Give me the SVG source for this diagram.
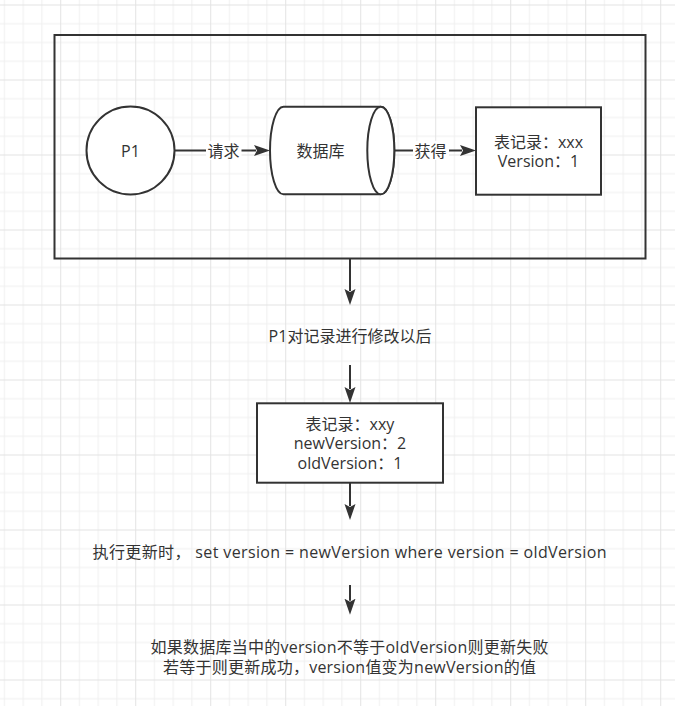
<svg xmlns="http://www.w3.org/2000/svg" width="675" height="706" viewBox="0 0 675 706">
  <defs>
    <pattern id="grid" x="-14.8" y="4.5" width="75" height="75" patternUnits="userSpaceOnUse">
      <g stroke="#efefef" stroke-width="1" fill="none">
        <line x1="19.25" y1="0" x2="19.25" y2="75"/>
        <line x1="38" y1="0" x2="38" y2="75"/>
        <line x1="56.75" y1="0" x2="56.75" y2="75"/>
        <line x1="0" y1="19.25" x2="75" y2="19.25"/>
        <line x1="0" y1="38" x2="75" y2="38"/>
        <line x1="0" y1="56.75" x2="75" y2="56.75"/>
      </g>
      <g stroke="#e3e3e3" stroke-width="1" fill="none">
        <line x1="0.5" y1="0" x2="0.5" y2="75"/>
        <line x1="0" y1="0.5" x2="75" y2="0.5"/>
      </g>
    </pattern>
    <marker id="arrow" viewBox="0 -6 17 12" refX="2" refY="0" markerWidth="17" markerHeight="12" markerUnits="userSpaceOnUse" orient="auto">
      <path d="M16,0 L0,-5.5 L3,0 L0,5.5 Z" fill="#333333"/>
    </marker>
  </defs>
  <style>
    .shape { fill: #ffffff; stroke: #333333; stroke-width: 2; }
    .frame { fill: none; stroke: #333333; stroke-width: 2; }
    .edge { fill: none; stroke: #333333; stroke-width: 2; marker-end: url(#arrow); }
    .t { font-family: "Open Sans", "Noto Sans CJK SC", sans-serif; font-size: 16px; fill: #333333; text-anchor: middle; }
    .lblbg { fill: #ffffff; }
  </style>

  <rect x="0" y="0" width="675" height="706" fill="#ffffff"/>
  <rect x="0" y="0" width="675" height="706" fill="url(#grid)"/>

  <g id="container">
    <rect class="frame" x="54.5" y="35" width="591" height="223.5"/>
  </g>

  <g id="p1">
    <circle class="shape" cx="130.5" cy="150.5" r="44"/>
    <text class="t" x="130.5" y="156.5">P1</text>
  </g>

  <g id="database">
    <path class="shape" d="M283.5,106.7 L380.8,106.7 A13.5,43.8 0 0 1 380.8,194.3 L283.5,194.3 A13.5,43.8 0 0 1 283.5,106.7 Z"/>
    <ellipse class="shape" cx="380.8" cy="150.5" rx="13.5" ry="43.8"/>
    <text class="t" x="320.5" y="156.5">数据库</text>
  </g>

  <g id="record1">
    <rect class="shape" x="476" y="107.3" width="125" height="87.4"/>
    <text class="t" x="538.5" y="147.5">表记录：xxx</text>
    <text class="t" x="538.5" y="167">Version：1</text>
  </g>

  <g id="modify-label">
    <text class="t" x="350" y="342">P1对记录进行修改以后</text>
  </g>

  <g id="record2">
    <rect class="shape" x="257" y="403.3" width="186" height="79.4"/>
    <text class="t" x="350" y="429.5">表记录：xxy</text>
    <text class="t" x="350" y="449">newVersion：2</text>
    <text class="t" x="350" y="468.5">oldVersion：1</text>
  </g>

  <g id="update-label">
    <text class="t" x="349.5" y="558" textLength="514" lengthAdjust="spacing">执行更新时， set version = newVersion where version = oldVersion</text>
  </g>

  <g id="result-label">
    <text class="t" x="349.5" y="652.5" textLength="398" lengthAdjust="spacing">如果数据库当中的version不等于oldVersion则更新失败</text>
    <text class="t" x="349.5" y="672.5" textLength="373" lengthAdjust="spacing">若等于则更新成功，version值变为newVersion的值</text>
  </g>

  <g id="connectors">
    <line class="edge" x1="175" y1="150.5" x2="256" y2="150.5"/>
    <rect class="lblbg" x="206" y="141" width="35.5" height="19"/>
    <text class="t" x="223.5" y="156.5">请求</text>

    <line class="edge" x1="394.3" y1="150.5" x2="462" y2="150.5"/>
    <rect class="lblbg" x="413" y="141" width="36" height="19"/>
    <text class="t" x="430.5" y="156.5">获得</text>

    <line class="edge" x1="350" y1="259" x2="350" y2="291"/>
    <line class="edge" x1="350" y1="365" x2="350" y2="389"/>
    <line class="edge" x1="350" y1="483" x2="350" y2="506"/>
    <line class="edge" x1="350" y1="585" x2="350" y2="600.7"/>
  </g>
</svg>
